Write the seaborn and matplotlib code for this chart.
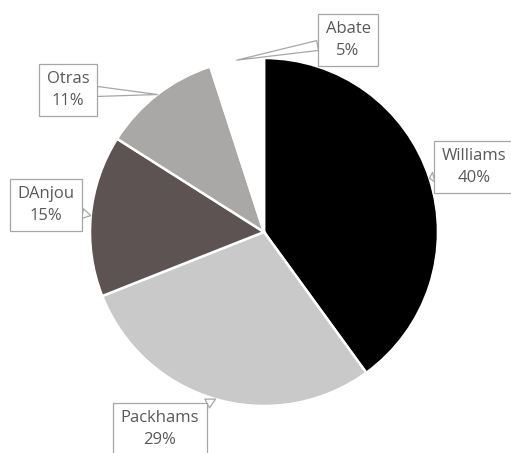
import matplotlib
matplotlib.use("Agg")
import matplotlib.pyplot as plt
import seaborn as sns
import numpy as np

categories = ["Williams", "Packhams", "DAnjou", "Otras", "Abate"]
values = [40, 29, 15, 11, 5]
colors = ["#000000", "#c9c9c9", "#5d5352", "#a9a8a7", "#ffffff"]

sns.set_style("white")
plt.rcParams['font.family'] = ['Open Sans', 'DejaVu Sans']

W, H = 511, 453
fig = plt.figure(figsize=(W / 100, H / 100), dpi=100)
ax = fig.add_axes([0, 0, 1, 1])
cx, cy, R = 264, 232, 174

wedges, _ = ax.pie(values, colors=colors, startangle=90, counterclock=False,
                   radius=1.0, center=(0, 0), frame=True,
                   wedgeprops=dict(edgecolor="white", linewidth=1.8))
ax.set_xlim(-cx / R, (W - cx) / R)
ax.set_ylim(-(H - cy) / R, cy / R)
ax.set_aspect("equal")
ax.axis("off")

# label box centres (pixels)
label_pos = {
    "Williams": (474, 167),
    "Packhams": (160, 429),
    "DAnjou": (46, 205),
    "Otras": (68, 90),
    "Abate": (348, 40),
}

total = sum(values)
cum = 0
for cat, v in zip(categories, values):
    mid = (cum + v / 2) / total * 360
    cum += v
    ang = np.deg2rad(90 - mid)
    tip = (np.cos(ang), np.sin(ang))
    px, py = label_pos[cat]
    txy = ((px - cx) / R, (cy - py) / R)
    ax.annotate(f"{cat}\n{v}%", xy=tip, xytext=txy, ha="center", va="center",
                fontsize=12, color="#595959", linespacing=1.45,
                bbox=dict(boxstyle="square,pad=0.45", fc="white", ec="#a6a6a6", lw=0.9),
                arrowprops=dict(arrowstyle="wedge,tail_width=0.6,shrink_factor=0.5",
                                fc="white", ec="#a6a6a6", lw=0.9,
                                shrinkA=0, shrinkB=0),
                zorder=5)

fig.savefig("out.png", dpi=100, facecolor="white")
